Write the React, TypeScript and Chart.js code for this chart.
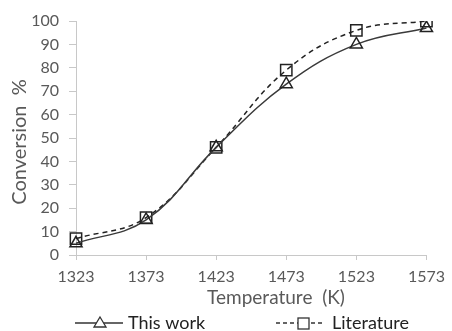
import React, { useEffect, useRef } from "react";
import { Chart, registerables } from "chart.js";
Chart.register(...registerables);

const temperatures = ["1323", "1373", "1423", "1473", "1523", "1573"];
const thisWork = [5, 15, 46, 73, 90, 97];
const literature = [7, 16, 46, 79, 96, 100];
const yTicks = [0, 10, 20, 30, 40, 50, 60, 70, 80, 90, 100];

const FONT = "Lato, 'Open Sans', sans-serif";

const legendPlugin = {
  id: "customLegend",
  afterDraw(chart: any) {
    const ctx = chart.ctx;
    ctx.save();
    // axis titles
    ctx.fillStyle = "#595959";
    ctx.font = "19px " + FONT;
    ctx.textAlign = "center";
    ctx.textBaseline = "middle";
    ctx.fillText("Temperature  (K)", 276, 298);
    ctx.save();
    ctx.translate(20, 142);
    ctx.rotate(-Math.PI / 2);
    ctx.font = "20px " + FONT;
    ctx.fillText("Conversion  %", 0, 0);
    ctx.restore();

    const y = 323;
    // This work
    ctx.strokeStyle = "#333";
    ctx.lineWidth = 1.3;
    ctx.setLineDash([]);
    ctx.beginPath();
    ctx.moveTo(75, y);
    ctx.lineTo(123, y);
    ctx.stroke();
    ctx.fillStyle = "#fff";
    ctx.beginPath();
    ctx.moveTo(100, y - 6);
    ctx.lineTo(106, y + 4);
    ctx.lineTo(94, y + 4);
    ctx.closePath();
    ctx.fill();
    ctx.stroke();
    ctx.fillStyle = "#222";
    ctx.font = "18px " + FONT;
    ctx.textBaseline = "middle";
    ctx.textAlign = "left";
    ctx.fillText("This work", 128, y);
    // Literature
    ctx.setLineDash([4, 3]);
    ctx.beginPath();
    ctx.moveTo(276, y);
    ctx.lineTo(323, y);
    ctx.stroke();
    ctx.setLineDash([]);
    ctx.fillStyle = "#fff";
    ctx.fillRect(298, y - 5, 11, 11);
    ctx.strokeRect(298, y - 5, 11, 11);
    ctx.fillStyle = "#222";
    ctx.fillText("Literature", 332, y);
    ctx.restore();
  },
};

export default function App() {
  const ref = useRef<HTMLCanvasElement>(null);
  useEffect(() => {
    document.body.style.margin = "0";
    const chart = new Chart(ref.current!, {
      type: "line",
      data: {
        labels: temperatures,
        datasets: [
          {
            label: "This work",
            data: thisWork,
            borderColor: "#3a3a3a",
            borderWidth: 1.5,
            tension: 0.4,
            pointStyle: "triangle",
            pointRadius: 7,
            pointBorderWidth: 1.5,
            pointBorderColor: "#222",
            pointBackgroundColor: "rgba(255,255,255,0)",
          },
          {
            label: "Literature",
            data: literature,
            borderColor: "#222",
            borderWidth: 1.5,
            borderDash: [5, 4],
            tension: 0.4,
            pointStyle: "rect",
            pointRadius: 8,
            pointBorderWidth: 1.5,
            pointBorderColor: "#222",
            pointBackgroundColor: "rgba(255,255,255,0)",
          },
        ],
      },
      options: {
        animation: false,
        responsive: false,
        layout: { padding: { top: 21, right: 17, bottom: 24, left: 0 } },
        plugins: { legend: { display: false }, tooltip: { enabled: false } },
        scales: {
          x: {
            offset: false,
            grid: { drawOnChartArea: false, color: "#c8c8c8", tickLength: 5 },
            border: { color: "#c8c8c8" },
            ticks: { color: "#595959", font: { family: FONT, size: 16 }, padding: 7, maxRotation: 0 },
            afterFit(scale: any) {
              scale.height = 52;
            },
          },
          y: {
            min: 0,
            max: 100,
            afterBuildTicks(scale: any) {
              scale.ticks = yTicks.map((v) => ({ value: v }));
            },
            grid: { drawOnChartArea: false, color: "#c8c8c8", tickLength: 7 },
            border: { color: "#c8c8c8" },
            ticks: { color: "#595959", font: { family: FONT, size: 16 }, padding: 10 },
            afterFit(scale: any) {
              scale.width = 76;
            },
          },
        },
      },
      plugins: [legendPlugin],
    });
    return () => chart.destroy();
  }, []);
  return (
    <div style={{ width: 452, height: 331, background: "#fff" }}>
      <canvas ref={ref} width={452} height={331} style={{ display: "block" }} />
    </div>
  );
}
